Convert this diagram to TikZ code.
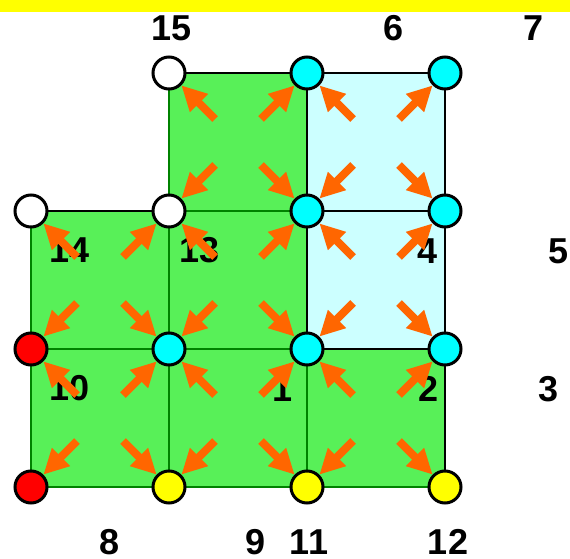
\documentclass[tikz,border=0pt]{standalone}
\usepackage{fontspec}
\setmainfont{Liberation Sans}
\usetikzlibrary{arrows.meta}
\pgfdeclarelayer{bg}
\pgfdeclarelayer{arrlayer}
\pgfsetlayers{bg,arrlayer,main}
\definecolor{bary}{RGB}{255,255,0}
\definecolor{cellgreen}{RGB}{88,240,88}
\definecolor{cellcyan}{RGB}{204,255,255}
\definecolor{linegreen}{RGB}{0,130,0}
\definecolor{arrorange}{RGB}{255,102,0}
\definecolor{nodecyan}{RGB}{0,255,255}
\definecolor{nodered}{RGB}{255,0,0}
\definecolor{nodeyellow}{RGB}{255,255,0}
\tikzset{
  vtx/.style={circle, draw=black, line width=3pt, minimum size=32pt, inner sep=0pt},
  blkline/.style={draw=black, line width=2.8pt},
  grnline/.style={draw=linegreen, line width=2.8pt},
  lbl/.style={font=\bfseries\fontsize{36}{36}\selectfont, inner sep=0pt, anchor=center},
  arr/.style={draw=arrorange, line width=8pt, -{Triangle[length=25pt,width=24pt]}},
}
\begin{document}
\begin{tikzpicture}[x=1pt,y=-1pt]
\useasboundingbox (0,0) rectangle (570,559);
% vertices
\foreach \i/\j/\c in {1/0/white,2/0/nodecyan,3/0/nodecyan,
  0/1/white,1/1/white,2/1/nodecyan,3/1/nodecyan,
  0/2/nodered,1/2/nodecyan,2/2/nodecyan,3/2/nodecyan,
  0/3/nodered,1/3/nodeyellow,2/3/nodeyellow,3/3/nodeyellow}{
  \node[vtx, fill=\c] (n-\i-\j) at ({31+138*\i},{73+138*\j}) {};
}
\begin{pgfonlayer}{bg}
  \fill[bary] (0,0) rectangle (570,12);
  % cells
  \foreach \i/\j in {1/0,0/1,1/1,0/2,1/2,2/2}{
    \pgfmathtruncatemacro\ii{\i+1}
    \pgfmathtruncatemacro\jj{\j+1}
    \fill[cellgreen] (n-\i-\j.center) rectangle (n-\ii-\jj.center);
  }
  \foreach \i/\j in {2/0,2/1}{
    \pgfmathtruncatemacro\ii{\i+1}
    \pgfmathtruncatemacro\jj{\j+1}
    \fill[cellcyan] (n-\i-\j.center) rectangle (n-\ii-\jj.center);
  }
  % green grid lines
  \draw[grnline] (n-1-0.center) -- (n-1-3.center);
  \draw[grnline] (n-1-1.center) -- (n-2-1.center);
  \draw[grnline] (n-0-1.center) -- (n-0-3.center);
  \draw[grnline] (n-0-2.center) -- (n-2-2.center);
  \draw[grnline] (n-0-3.center) -- (n-3-3.center);
  \draw[grnline] (n-2-2.center) -- (n-2-3.center);
  % black lines
  \draw[blkline] (n-1-0.center) -- (n-3-0.center);
  \draw[blkline] (n-2-0.center) -- (n-2-2.center);
  \draw[blkline] (n-3-0.center) -- (n-3-3.center);
  \draw[blkline] (n-2-1.center) -- (n-3-1.center);
  \draw[blkline] (n-2-2.center) -- (n-3-2.center);
  \draw[blkline] (n-0-1.center) -- (n-1-1.center);
  % labels
  \node[lbl] (l15) at (172,28) {15};
  \node[lbl] (l6) at (394,28) {6};
  \node[lbl] (l7) at (534,28) {7};
  \node[lbl] (l14) at (70,250) {14};
  \node[lbl] (l13) at (200,250) {13};
  \node[lbl] (l4) at (428,251) {4};
  \node[lbl] (l5) at (559,251) {5};
  \node[lbl] (l10) at (70,388) {10};
  \node[lbl] (l1) at (283,389) {1};
  \node[lbl] (l2) at (429,389) {2};
  \node[lbl] (l3) at (549,389) {3};
  \node[lbl] (l8) at (110,542) {8};
  \node[lbl] (l9) at (256,542) {9};
  \node[lbl] (l11) at (309,542) {11};
  \node[lbl] (l12) at (448,542) {12};
\end{pgfonlayer}
\begin{pgfonlayer}{arrlayer}
  \foreach \i/\j in {1/0,2/0,0/1,1/1,2/1,0/2,1/2,2/2}{
    \pgfmathtruncatemacro\ii{\i+1}
    \pgfmathtruncatemacro\jj{\j+1}
    \path (n-\i-\j.center) ++(46,46) coordinate (t-\i-\j-a);
    \path (n-\ii-\j.center) ++(-46,46) coordinate (t-\i-\j-b);
    \path (n-\i-\jj.center) ++(46,-46) coordinate (t-\i-\j-c);
    \path (n-\ii-\jj.center) ++(-46,-46) coordinate (t-\i-\j-d);
    \draw[arr] (t-\i-\j-a) -- (n-\i-\j);
    \draw[arr] (t-\i-\j-b) -- (n-\ii-\j);
    \draw[arr] (t-\i-\j-c) -- (n-\i-\jj);
    \draw[arr] (t-\i-\j-d) -- (n-\ii-\jj);
  }
\end{pgfonlayer}
\end{tikzpicture}
\end{document}
